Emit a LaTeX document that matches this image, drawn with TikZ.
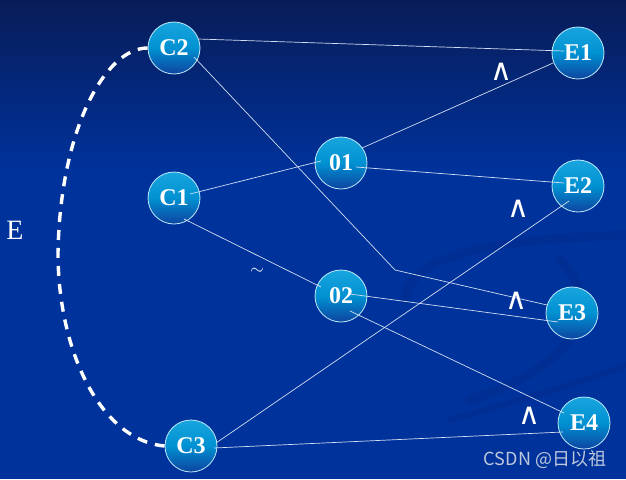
\documentclass[tikz,border=0pt]{standalone}
\usepackage{fontspec}
\setmainfont{Liberation Serif}
\newfontfamily\wmfont{Noto Sans CJK SC}
\newfontfamily\symfont{DejaVu Sans}
\usetikzlibrary{calc}
\definecolor{bgtop}{RGB}{8,28,88}
\definecolor{bgbase}{RGB}{0,50,155}
\definecolor{bgdark}{RGB}{0,40,130}
\definecolor{ctop}{RGB}{25,165,222}
\definecolor{cmid}{RGB}{0,145,210}
\definecolor{cbot}{RGB}{14,68,160}
\definecolor{edgecol}{RGB}{210,222,242}
\definecolor{wmcol}{RGB}{190,200,220}
\tikzset{
  ball/.style={circle, minimum size=52pt, inner sep=0pt,
    top color=ctop, bottom color=cbot, middle color=cmid,
    draw=white!75!cyan, line width=0.8pt,
    text=white, font=\fontsize{24}{24}\selectfont\bfseries},
  link/.style={draw=edgecol, line width=0.7pt},
  sym/.style={text=white, inner sep=0pt},
  wedgelab/.style={sym, font=\symfont\fontsize{30}{30}\selectfont},
  swirl/.style={draw=bgdark, line width=9pt, opacity=0.3, line cap=round}
}
\begin{document}
\begin{tikzpicture}[x=1pt,y=-1pt]
% background
\fill[bgbase] (0,0) rectangle (626,479);
\shade[top color=bgtop, bottom color=bgbase] (0,0) rectangle (626,170);
\useasboundingbox (0,0) rectangle (626,479);
% faint swirls
\draw[swirl] (405,300) .. controls (410,260) and (470,240) .. (626,235);
\draw[swirl] (560,260) .. controls (600,300) and (590,360) .. (470,400);
\draw[swirl, line width=6pt] (450,420) .. controls (520,400) and (590,380) .. (626,365);
% nodes
\node[ball] (C2) at (174,48) {C2};
\node[ball] (C1) at (174,198) {C1};
\node[ball] (C3) at (191,446) {C3};
\node[ball] (O1) at (341,163) {01};
\node[ball] (O2) at (341,296) {02};
\node[ball] (E1) at (578,53) {E1};
\node[ball] (E2) at (578,186) {E2};
\node[ball] (E3) at (572,313) {E3};
\node[ball] (E4) at (584,423) {E4};
\coordinate (bend) at (395,270);
% connectors
\draw[link] ($(C2.center)+(24,-9)$) -- ($(E1.center)+(-14,-2)$);
\draw[link] ($(C2.center)+(20,9)$) -- (bend) -- ($(E3.center)+(-25,-8)$);
\draw[link] ($(C1.center)+(16,-4)$) -- ($(O1.center)+(-20,-2)$);
\draw[link] ($(O1.center)+(21,-15)$) -- ($(E1.center)+(-25,10)$);
\draw[link] ($(O1.center)+(15,4)$) -- ($(E2.center)+(-14,-3)$);
\draw[link] ($(C1.center)+(10,21)$) -- ($(O2.center)+(-20,-9)$);
\draw[link] ($(O2.center)+(9,-2)$) -- ($(E3.center)+(-14,9)$);
\draw[link] ($(O2.center)+(9,15)$) -- ($(E4.center)+(-20,-10)$);
\draw[link] ($(C3.center)+(25,-3)$) -- ($(E2.center)+(-9,15)$);
\draw[link] ($(C3.center)+(23,2)$) -- ($(E4.center)+(-21,9)$);
% dashed arc
\coordinate (a1) at (105,48);
\coordinate (a2) at (60,130);
\coordinate (mid) at (58,253);
\coordinate (a3) at (58,350);
\coordinate (a4) at (100,440);
\draw[white, line width=3.4pt, dash pattern=on 10pt off 8pt]
  (C2.west) .. controls (a1) and (a2) .. (mid) .. controls (a3) and (a4) .. (C3.west);
% labels
\node[sym, font=\fontsize{28}{28}\selectfont] (Elab) at (15,230) {E};
\node[wedgelab] (w1) at (501,72) {∧};
\node[wedgelab] (w2) at (518,209) {∧};
\node[wedgelab] (w3) at (516,301) {∧};
\node[wedgelab] (w4) at (529,416) {∧};
\node[sym, font=\fontsize{18}{18}\selectfont] (tl) at (257,271) {$\sim$};
\node[text=wmcol, inner sep=0pt, font=\wmfont\fontsize{18}{18}\selectfont] (wm) at (545,459) {CSDN @日以祖};
\end{tikzpicture}
\end{document}
